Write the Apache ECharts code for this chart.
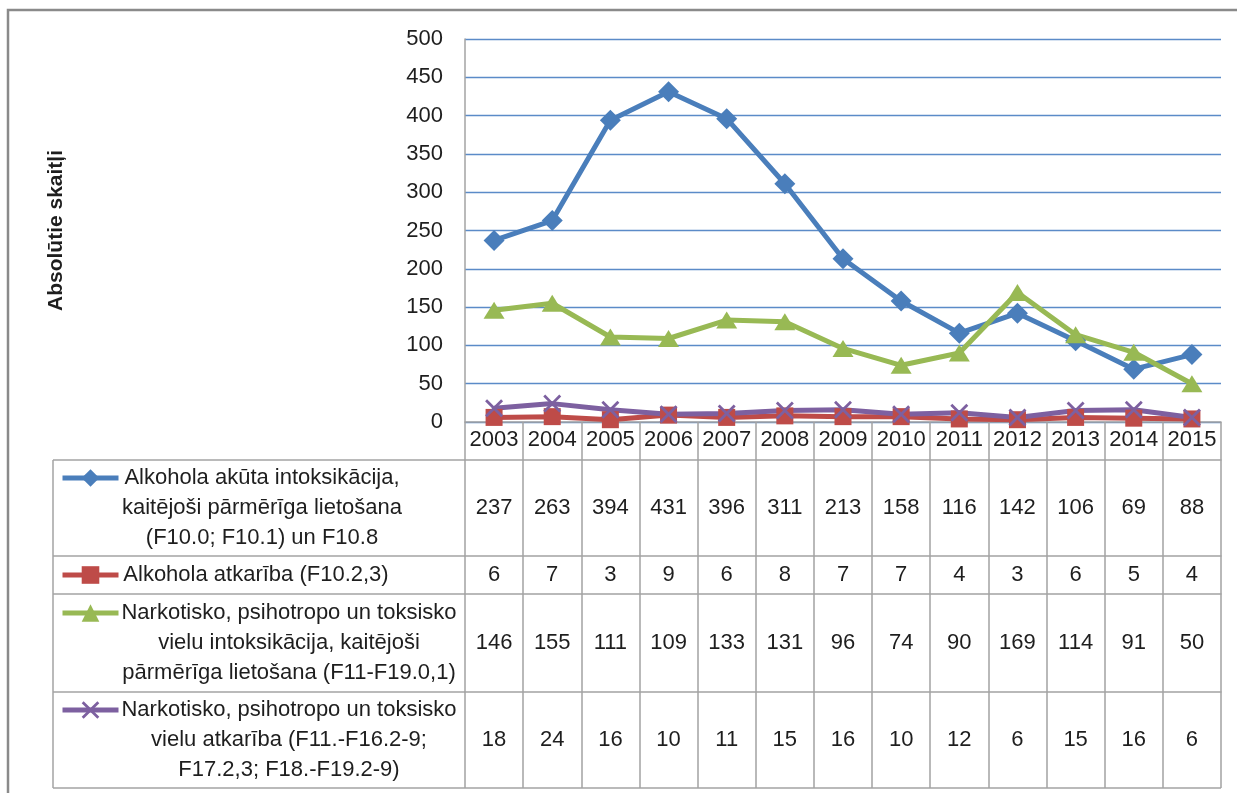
<!DOCTYPE html>
<html>
<head>
<meta charset="utf-8">
<script src="https://cdn.jsdelivr.net/npm/echarts@6/dist/echarts.min.js"></script>
<style>
  html, body { margin: 0; padding: 0; background: #fff; }
  #chart { width: 1237px; height: 793px; }
</style>
</head>
<body>
<div id="chart"></div>
<script>
// dati
var years = ['2003', '2004', '2005', '2006', '2007', '2008', '2009', '2010', '2011', '2012', '2013', '2014', '2015'];
var alkAkuta = [237, 263, 394, 431, 396, 311, 213, 158, 116, 142, 106, 69, 88];
var alkAtkariba = [6, 7, 3, 9, 6, 8, 7, 7, 4, 3, 6, 5, 4];
var narkAkuta = [146, 155, 111, 109, 133, 131, 96, 74, 90, 169, 114, 91, 50];
var narkAtkariba = [18, 24, 16, 10, 11, 15, 16, 10, 12, 6, 15, 16, 6];
var yTicks = [0, 50, 100, 150, 200, 250, 300, 350, 400, 450, 500];

var label1 = ['Alkohola akūta intoksikācija,', 'kaitējoši pārmērīga lietošana', '(F10.0; F10.1) un F10.8'];
var label2 = ['Alkohola atkarība (F10.2,3)'];
var label3 = ['Narkotisko, psihotropo un toksisko', 'vielu intoksikācija, kaitējoši', 'pārmērīga lietošana (F11-F19.0,1)'];
var label4 = ['Narkotisko, psihotropo un toksisko', 'vielu atkarība (F11.-F16.2-9;', 'F17.2,3; F18.-F19.2-9)'];

var FONT = 'Liberation Sans';
var TXT = '#1e1e1e';
var GRAY = '#a3a3a3';
var NUM_SIZE = 22;
var xMark = 'path://M0,1.1L1.1,0L5,3.9L8.9,0L10,1.1L6.1,5L10,8.9L8.9,10L5,6.1L1.1,10L0,8.9L3.9,5Z';

var rows = [
    {name: label1.join(' '), lines: label1, data: alkAkuta, color: '#4a7ebb', symbol: 'diamond', size: 21, top: 460, h: 96, tx: 262},
    {name: label2.join(' '), lines: label2, data: alkAtkariba, color: '#be4b48', symbol: 'rect', size: 17, top: 556, h: 38, tx: 256},
    {name: label3.join(' '), lines: label3, data: narkAkuta, color: '#98b954', symbol: 'triangle', size: 19, top: 594, h: 98, tx: 289},
    {name: label4.join(' '), lines: label4, data: narkAtkariba, color: '#7d60a0', symbol: xMark, size: 18, top: 692, h: 96, tx: 289}
];

var axisBottom = 422;

var xAxes = [{
    type: 'category',
    data: years,
    position: 'bottom',
    axisLine: {lineStyle: {color: GRAY, width: 1.5}},
    axisTick: {show: true, interval: 0, length: rows[0].top - axisBottom, lineStyle: {color: GRAY, width: 1.5}},
    axisLabel: {interval: 0, margin: 7, fontSize: NUM_SIZE, color: TXT, fontFamily: FONT}
}];
rows.forEach(function (r) {
    xAxes.push({
        type: 'category',
        data: years,
        position: 'bottom',
        offset: r.top - axisBottom,
        axisLine: {lineStyle: {color: GRAY, width: 1.5}},
        axisTick: {show: true, interval: 0, length: r.h, lineStyle: {color: GRAY, width: 1.5}},
        axisLabel: {
            interval: 0,
            margin: r.h / 2 - NUM_SIZE / 2,
            fontSize: NUM_SIZE, color: TXT, fontFamily: FONT,
            formatter: function (v, i) { return String(r.data[i]); }
        }
    });
});

var series = rows.map(function (r) {
    return {
        name: r.name,
        type: 'line',
        data: r.data,
        xAxisIndex: 0,
        symbol: r.symbol,
        symbolSize: r.symbol === 'triangle' ? [21, 17] : r.size,
        lineStyle: {color: r.color, width: 5},
        itemStyle: {color: r.color},
        emphasis: {disabled: true},
        animation: false
    };
});

// leģendas ikonas katrai tabulas rindai
var legends = rows.map(function (r) {
    var firstLine = r.top + r.h / 2 - (r.lines.length - 1) * 15;
    return {
        data: [r.name],
        left: 60,
        top: firstLine - 11,
        padding: 0,
        itemGap: 0,
        itemWidth: 56,
        itemHeight: 22,
        selectedMode: false,
        lineStyle: {width: 5},
        formatter: function () { return ''; },
        textStyle: {fontSize: 1}
    };
});

var graphics = [
    {type: 'rect', z: -10, shape: {x: 8, y: 10, width: 1300, height: 900}, style: {fill: 'none', stroke: '#8a8a8a', lineWidth: 2.5}},
    {type: 'line', shape: {x1: 53, y1: rows[0].top, x2: 53, y2: 788}, style: {stroke: GRAY, lineWidth: 1.5}},
    {type: 'line', shape: {x1: 53, y1: 788, x2: 1221, y2: 788}, style: {stroke: GRAY, lineWidth: 1.5}}
];
rows.forEach(function (r) {
    graphics.push({type: 'line', shape: {x1: 53, y1: r.top, x2: 465, y2: r.top}, style: {stroke: GRAY, lineWidth: 1.5}});
    graphics.push({
        type: 'text',
        x: r.tx,
        y: r.top + r.h / 2,
        style: {
            text: r.lines.join('\n'),
            font: '22px "' + FONT + '"',
            fill: TXT,
            align: 'center',
            verticalAlign: 'middle',
            lineHeight: 30
        }
    });
});

var option = {
    backgroundColor: '#fff',
    animation: false,
    grid: {left: 465, right: 16, top: 39, bottom: 793 - axisBottom},
    legend: legends,
    xAxis: xAxes,
    yAxis: {
        type: 'value',
        min: yTicks[0],
        max: yTicks[yTicks.length - 1],
        interval: yTicks[1] - yTicks[0],
        name: 'Absolūtie skaitļi',
        nameLocation: 'middle',
        nameGap: 398,
        nameRotate: 90,
        nameTextStyle: {fontSize: 21, fontWeight: 'bold', color: TXT, fontFamily: FONT},
        axisLine: {show: true, lineStyle: {color: GRAY, width: 1.5}},
        axisTick: {show: false},
        axisLabel: {margin: 22, fontSize: NUM_SIZE, color: TXT, fontFamily: FONT},
        splitLine: {lineStyle: {color: '#5b8bc8', width: 1.3}}
    },
    graphic: graphics,
    series: series
};

var myChart = echarts.init(document.getElementById('chart'));
myChart.setOption(option);
</script>
</body>
</html>
